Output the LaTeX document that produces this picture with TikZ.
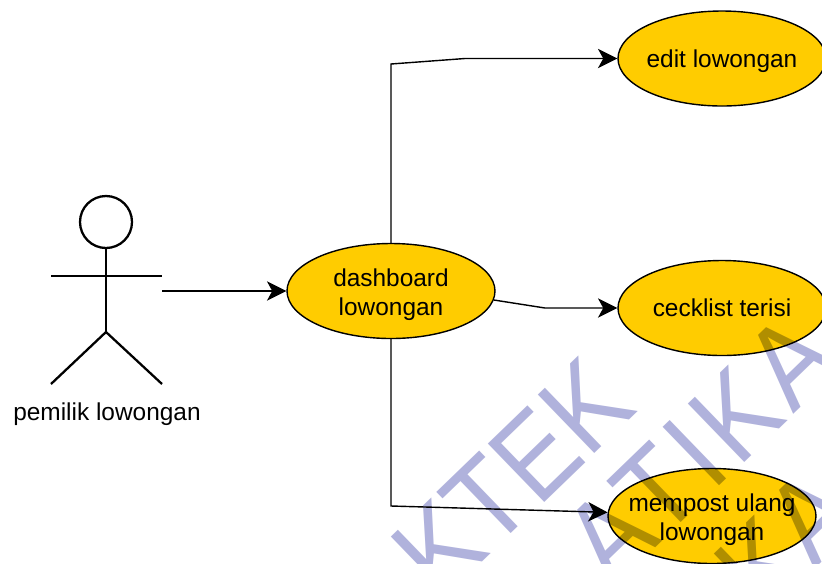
\documentclass[tikz,border=0pt]{standalone}
\usepackage{amsmath,amsthm,amssymb}
\usepackage{fontspec}
\setmainfont{Liberation Sans}
\usetikzlibrary{arrows.meta,shapes.geometric}
\definecolor{casefill}{HTML}{FFCC00}
\definecolor{markblue}{HTML}{B0B2DC}
\newcommand{\caselift}{\rule{0pt}{14.5pt}}

\begin{document}
\begin{tikzpicture}[x=0.2mm,y=0.2mm]
\tikzstyle{every node}+=[inner sep=0pt]
\tikzstyle{usecase}=[draw=black,fill=casefill,line width=0.8pt,ellipse,inner sep=-8pt,minimum width=4.16cm,minimum height=1.9cm,align=center,font=\fontsize{13.9}{16.8}\selectfont,execute at begin node={\rule[-3pt]{0pt}{15.9pt}}]
\tikzstyle{flow}=[black,line width=0.8pt,-{Stealth[length=11pt,width=11pt,inset=3pt]}]
\tikzstyle{limb}=[black,line width=1.3pt]
\tikzstyle{markletters}=[text=markblue,anchor=base west,rotate=44,yscale=1.12,font=\fontsize{60}{60}\selectfont\addfontfeature{Kerning=Off}]
\useasboundingbox (0,0) rectangle (822,-563);
\clip (0,0) rectangle (822,-563);
\fill [white] (0,0) rectangle (822,-563);
% actor
\node [draw=black,line width=1.3pt,circle,minimum size=1.04cm] (head) at (106,-222) {};
\coordinate (armleft) at (51,-276);
\coordinate (armright) at (162,-276);
\coordinate (hip) at (106,-332);
\coordinate (footleft) at (51,-384);
\coordinate (footright) at (162,-384);
\draw [limb] (head.south) -- (hip);
\draw [limb] (armleft) -- (armright);
\draw [limb] (footleft) -- (hip) -- (footright);
\node [font=\fontsize{13.9}{16.4}\selectfont] (actorname) at (107,-414.5) {pemilik lowongan};
% use cases
\node [usecase] (dashboard) at (391,-291) {\caselift dashboard\\lowongan};
\node [usecase] (edit) at (722,-58.5) {edit lowongan};
\node [usecase] (cecklist) at (722,-308) {cecklist terisi};
\node [usecase] (mempost) at (712,-516) {\caselift mempost ulang\\lowongan};
% connectors
\coordinate (actorhand) at (162,-291);
\coordinate (editbendA) at (391,-64);
\coordinate (editbendB) at (465,-58.5);
\coordinate (cecklistbend) at (545,-308);
\coordinate (mempostbend) at (391,-506);
\draw [flow] (actorhand) -- (dashboard.west);
\draw [flow] (dashboard.north) -- (editbendA) -- (editbendB) -- (edit.west);
\draw [flow] (dashboard.-5) -- (cecklistbend) -- (cecklist.west);
\draw [flow] (dashboard.south) -- (mempostbend) -- (mempost.178);
% watermark
\begin{scope}[blend mode=multiply]
\node [markletters] (markone) at (441,-602) {KTEK};
\node [markletters,font=\fontsize{60}{60}\selectfont\addfontfeature{LetterSpace=6}] (marktwo) at (612,-590) {ATIKA};
\node [markletters] (markthree) at (764,-619) {KA};
\end{scope}
\end{tikzpicture}
\end{document}
